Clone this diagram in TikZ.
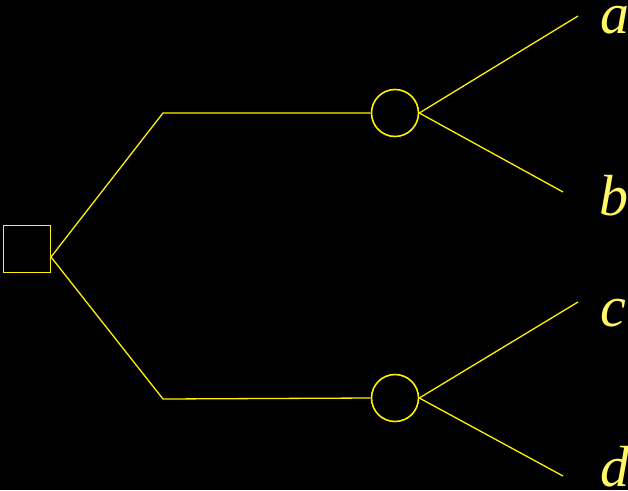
\documentclass[tikz,border=0pt]{standalone}
\usepackage{fontspec}
\setmainfont{Liberation Serif}
\begin{document}
\begin{tikzpicture}[x=1pt,y=-1pt,
  branch/.style={draw=yellow,line width=1.3pt},
  chance/.style={circle,draw=yellow,line width=1.6pt,minimum size=47pt,inner sep=0pt},
  decision/.style={rectangle,draw=yellow,line width=1.6pt,minimum size=47pt,inner sep=0pt},
  lbl/.style={text=yellow!60!white,font=\fontsize{58}{60}\selectfont\itshape,inner sep=0pt,anchor=base west}]
\fill[black] (0,0) rectangle (628,490);
\useasboundingbox (0,0) rectangle (628,490);
\node[decision] (sq) at (27,249) {};
\coordinate (apex) at (51,257);
\coordinate (k1) at (163,113);
\coordinate (k2) at (163,399);
\node[chance] (c1) at (395,113) {};
\node[chance] (c2) at (395,398) {};
\coordinate (ea) at (578,16);
\coordinate (eb) at (563,192);
\coordinate (ec) at (578,302);
\coordinate (ed) at (563,476);
\draw[branch] (apex) -- (k1) -- (c1.west);
\draw[branch] (apex) -- (k2) -- (c2.west);
\draw[branch] (c1.east) -- (ea);
\draw[branch] (c1.east) -- (eb);
\draw[branch] (c2.east) -- (ec);
\draw[branch] (c2.east) -- (ed);
\node[lbl] (la) at (600,33) {a};
\node[lbl] (lb) at (599,215) {b};
\node[lbl] (lc) at (600,326) {c};
\node[lbl] (ld) at (600,486) {d};
\end{tikzpicture}
\end{document}
